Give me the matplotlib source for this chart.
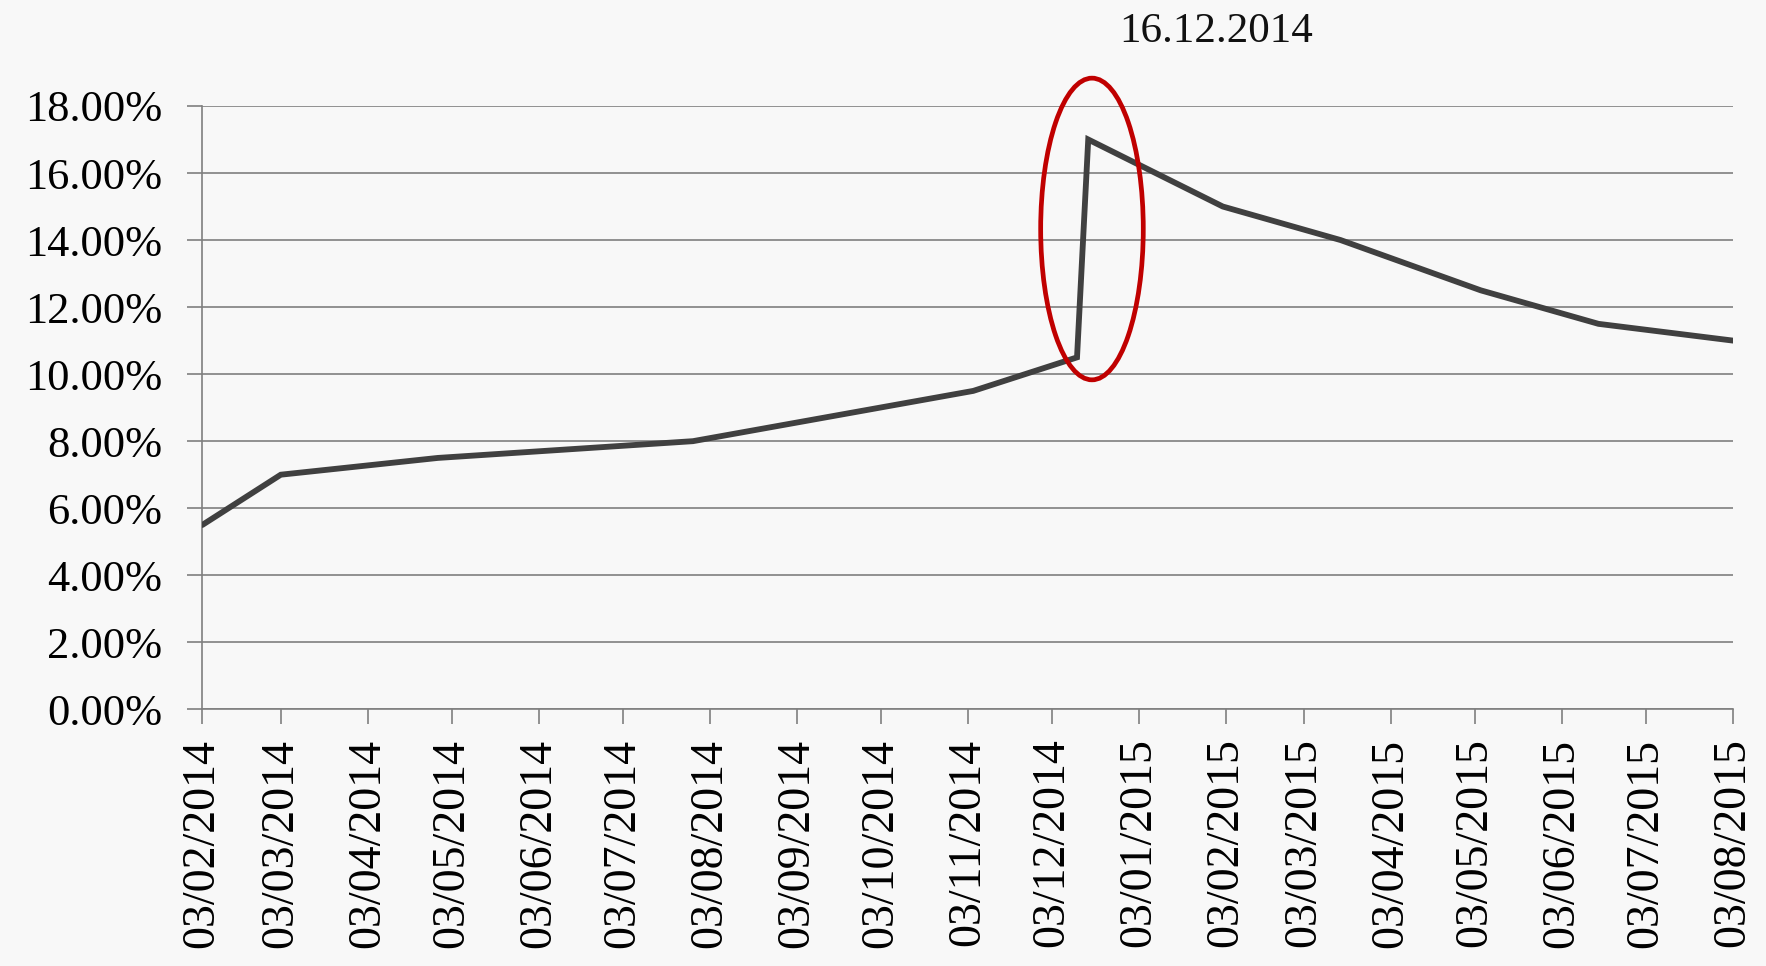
import datetime as dt
import matplotlib
matplotlib.use("Agg")
import matplotlib.pyplot as plt
import matplotlib.dates as mdates
from matplotlib.patches import Ellipse
from matplotlib.ticker import PercentFormatter

# key rate changes (date, percent)
dates = ["2014-02-03", "2014-03-03", "2014-04-28", "2014-07-28", "2014-11-05",
         "2014-12-12", "2014-12-16", "2015-02-02", "2015-03-16", "2015-05-05",
         "2015-06-16", "2015-08-03"]
rates = [5.5, 7.0, 7.5, 8.0, 9.5, 10.5, 17.0, 15.0, 14.0, 12.5, 11.5, 11.0]
y_ticks = [0, 2, 4, 6, 8, 10, 12, 14, 16, 18]
note_text = "16.12.2014"

x = [dt.datetime.strptime(d, "%Y-%m-%d") for d in dates]

plt.rcParams["font.family"] = ["Liberation Serif", "DejaVu Serif"]

bg = "#f8f8f8"
grid_c = "#7f7f7f"

fig = plt.figure(figsize=(17.66, 9.66), dpi=100, facecolor=bg)
ax = fig.add_axes([0.11455, 0.2657, 0.8668, 0.6246])
ax.set_facecolor(bg)

ax.plot(x, rates, color="#404040", lw=4.2, solid_capstyle="round",
        solid_joinstyle="miter", zorder=3)

ax.set_xlim(dt.datetime(2014, 2, 3), dt.datetime(2015, 8, 3))
ax.set_ylim(0, 18)
ax.set_yticks(y_ticks)
ax.yaxis.set_major_formatter(PercentFormatter(decimals=2))
ax.xaxis.set_major_locator(mdates.MonthLocator(bymonthday=3))
ax.xaxis.set_major_formatter(mdates.DateFormatter("%d/%m/%Y"))

ax.grid(axis="y", color=grid_c, lw=1.2, zorder=1)
for s in ["top", "right"]:
    ax.spines[s].set_visible(False)
for s in ["left", "bottom"]:
    ax.spines[s].set_color(grid_c)
    ax.spines[s].set_linewidth(1.2)

ax.tick_params(axis="y", length=11, width=1.2, color=grid_c, pad=18,
               labelsize=32)
ax.tick_params(axis="x", length=11, width=1.2, color=grid_c, pad=10,
               labelsize=33, labelrotation=90)

# red ellipse around the 16.12.2014 jump
center = mdates.date2num(dt.datetime(2014, 12, 17, 8))
ell = Ellipse((center, 14.33), width=36.6, height=9.0, fill=False,
              edgecolor="#c00000", lw=3.4, zorder=4, clip_on=False)
ax.add_patch(ell)

fig.text(1216 / 1766, 1 - 32 / 966, note_text, ha="center", va="center",
         fontsize=31, color="#111111")

fig.savefig("out.png", dpi=100, facecolor=bg)
